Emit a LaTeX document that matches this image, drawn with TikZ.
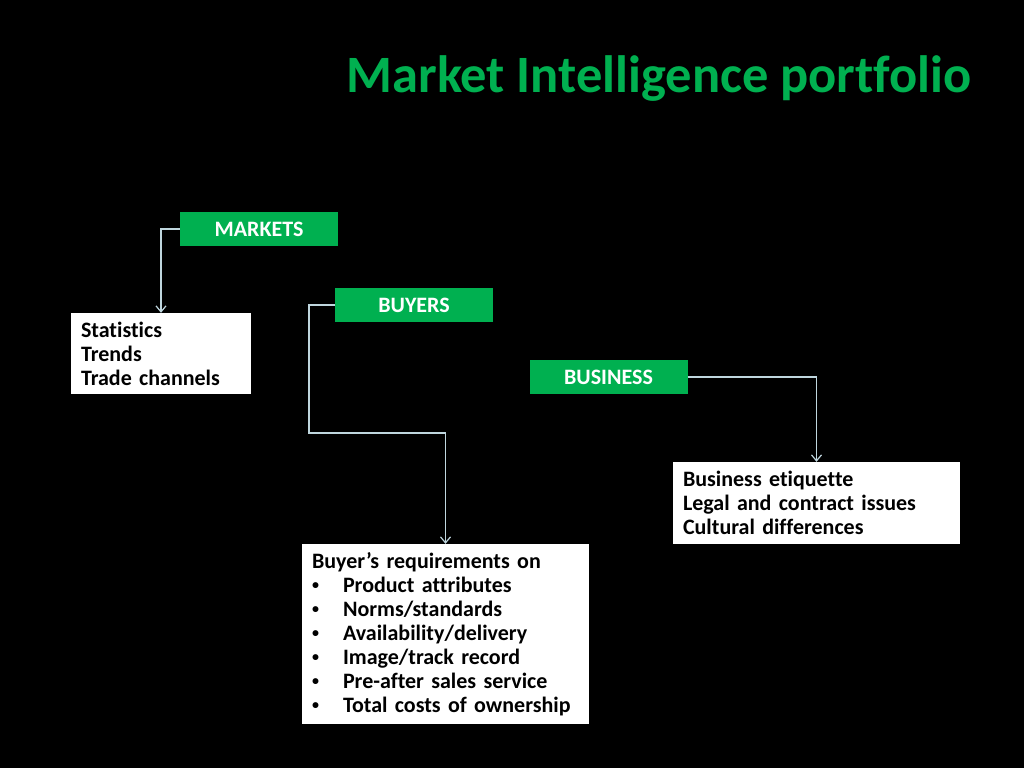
\documentclass[tikz,border=0pt]{standalone}
\usepackage{fontspec}
\setmainfont{Carlito}[Ligatures=NoCommon]
\usetikzlibrary{arrows.meta,positioning}
\definecolor{mgreen}{HTML}{00B050}
\definecolor{wire}{HTML}{BFD6DE}
\tikzset{tagbox/.style={fill=mgreen,text=white,font=\fontsize{22}{26}\selectfont\bfseries,minimum width=158pt,minimum height=34pt,inner sep=0pt},
 infobox/.style={fill=white,text=black,font=\fontsize{22}{24}\selectfont\bfseries,align=left,inner xsep=10pt,inner ysep=0pt},
 feed/.style={draw=wire,line width=1.2pt,-{Straight Barb[length=6pt,width=10pt]}},
 headline/.style={text=mgreen,font=\fontsize{52.5}{58}\selectfont\bfseries,inner sep=0pt}}
\newcommand{\itm}[1]{\makebox[31pt][l]{\raisebox{2.5pt}{\fontsize{14}{14}\selectfont•}}#1}

\begin{document}
\begin{tikzpicture}[x=1pt,y=-1pt]
\fill[black] (0,0) rectangle (1024,768);
\node[headline,anchor=base east] (title) at (972,92) {Market Intelligence portfolio};
% category tags
\node[tagbox] (markets) at (259,229) {MARKETS};
\node[tagbox] (buyers) at (414,305) {BUYERS};
\node[tagbox] (business) at (608.5,377) {BUSINESS};
% detail boxes
\node[infobox,text width=160pt,minimum height=81pt] (stats) at (161,353.5) {Statistics\\Trends\\Trade channels};
\node[infobox,text width=267pt,minimum height=82pt] (issues) at (816.5,503) {Business etiquette\\Legal and contract issues\\Cultural differences};
\node[infobox,text width=267pt,minimum height=180pt] (reqs) at (445.5,634) {Buyer’s requirements on\\\itm{Product attributes}\\\itm{Norms/standards}\\\itm{Availability/delivery}\\\itm{Image/track record}\\\itm{Pre-after sales service}\\\itm{Total costs of ownership}};
% connectors
\coordinate (bend) at (309,433);
\draw[feed] (markets.west) -| (stats.north);
\draw[feed] (buyers.west) -| (bend) -| (reqs.north);
\draw[feed] (business.east) -| (issues.north);
\end{tikzpicture}
\end{document}
